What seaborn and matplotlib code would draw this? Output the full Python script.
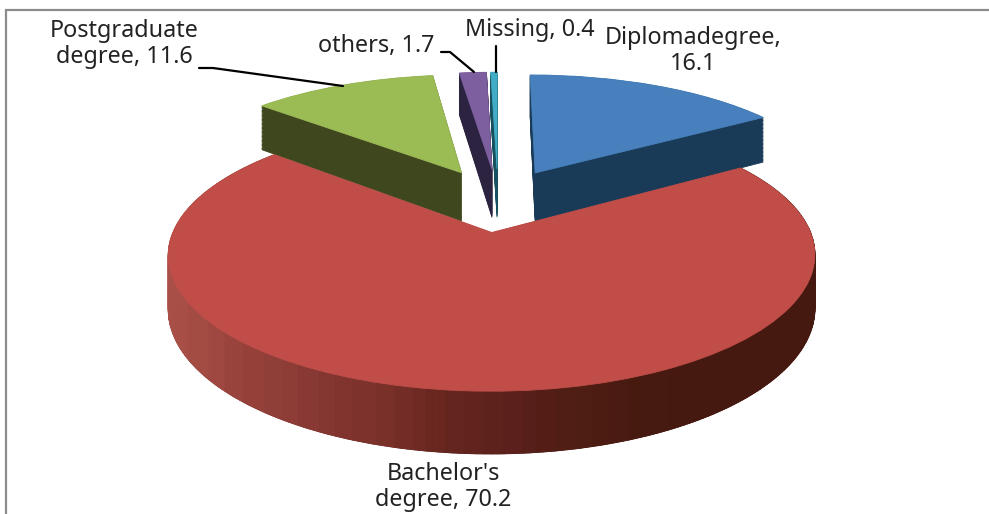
import numpy as np
import matplotlib
matplotlib.use("Agg")
import matplotlib.pyplot as plt
from matplotlib.transforms import Transform
from matplotlib.collections import PolyCollection
import seaborn as sns

# --- data ---
categories = ["Diplomadegree", "Bachelor's degree", "Postgraduate degree", "others", "Missing"]
values = [16.1, 70.2, 11.6, 1.7, 0.4]
face_colors = ["#4780BC", "#C04D48", "#9BBB55", "#7D5FA0", "#41ACC6"]
wall_colors = ["#1A3B58", "#5A2620", "#3E471D", "#2C2340", "#17505F"]
red_wall_stops = ["#A84F47", "#96423B", "#873833", "#7A3029", "#66261F", "#5A201B", "#4F1D14", "#461A10", "#451810"]
explode = [0.26] * 5

# --- projection of the pie plane (perspective view of a tilted disc) ---
X0, Y0, AX, BY, KP, DEPTH = 498.0, 199.6, 305.5, 121.5, 0.16, 50.0


def project(pts, d=0.0):
    pts = np.asarray(pts, float)
    w = 1 + KP * pts[:, 1]
    return np.column_stack([X0 + AX * pts[:, 0] / w, Y0 + (d - BY * pts[:, 1]) / w])


class Tilt(Transform):
    input_dims = output_dims = 2
    is_separable = False
    has_inverse = False

    def __init__(self, d=0.0):
        super().__init__()
        self.d = d

    def transform_non_affine(self, values):
        return project(values, self.d)


sns.set_theme(style="white")
plt.rcParams["font.family"] = ["Noto Sans", "DejaVu Sans"]

fig = plt.figure(figsize=(9.89, 5.14), dpi=100, facecolor="white")
ax = fig.add_axes([0, 0, 1, 1])


def draw_pie(colors, d, z):
    wedges, _ = ax.pie(values, explode=explode, startangle=90, counterclock=False,
                       colors=colors, radius=1.0, frame=True,
                       wedgeprops=dict(linewidth=0.6, zorder=z))
    tr = Tilt(d) + ax.transData
    for i, w in enumerate(wedges):
        w.set_transform(tr)
        w.set_edgecolor(colors[i])
        w.set_clip_on(False)
        # the big slice sits in front of all the others
        w.set_zorder(z + (10 if i == 1 else 0))
    return wedges


for d in np.arange(DEPTH, 0, -1.5):
    draw_pie(wall_colors, d, 2)
top = draw_pie(face_colors, 0.0, 4)

# outer wall of the big slice, shaded from left to right
red = top[1]
th = np.radians(np.linspace(red.theta1, red.theta2, 260))
rim = np.column_stack([red.center[0] + red.r * np.cos(th), red.center[1] + red.r * np.sin(th)])
up, lo = project(rim, 0.0), project(rim, DEPTH)
pal = sns.blend_palette(red_wall_stops, n_colors=30)
quads, cols = [], []
for k in range(len(th) - 1):
    quads.append([up[k], up[k + 1], lo[k + 1], lo[k]])
    f = np.clip((up[k, 0] - 170) / (700 - 170), 0, 1)
    cols.append(pal[int(f * 29)])
ax.add_collection(PolyCollection(quads, facecolors=cols, edgecolors=cols, linewidths=0.8, zorder=12.5))
# pie faces of the big slice stay above that wall
top[1].set_zorder(13)

ax.set_aspect("auto")
ax.set_xlim(0, 989)
ax.set_ylim(514, 0)
ax.set_axis_off()

# --- frame ---
ax.plot([5.5, 5.5, 989], [514, 10, 10], color="#8C8C8C", lw=1.6, zorder=1, solid_joinstyle="miter")

# --- leader lines ---
for xs, ys in [([199, 213, 343], [68, 68, 86]),
               ([441, 450, 474], [52, 52, 72]),
               ([496, 496], [46, 72])]:
    ax.plot(xs, ys, color="black", lw=1.6, zorder=20, clip_on=False)

# --- labels ---
txt = dict(ha="center", va="center", color="#222222", fontsize=16.8, zorder=21)
ax.text(124, 44, "Postgraduate\ndegree, 11.6", linespacing=1.15, **txt)
ax.text(376, 46, "others, 1.7", **txt)
ax.text(530, 30, "Missing, 0.4", **txt)
ax.text(693, 51, "Diplomadegree,\n16.1", linespacing=1.15, **txt)
ax.text(443, 487, "Bachelor's\ndegree, 70.2", linespacing=1.15, **txt)

fig.savefig("out.png", dpi=100, facecolor="white")
